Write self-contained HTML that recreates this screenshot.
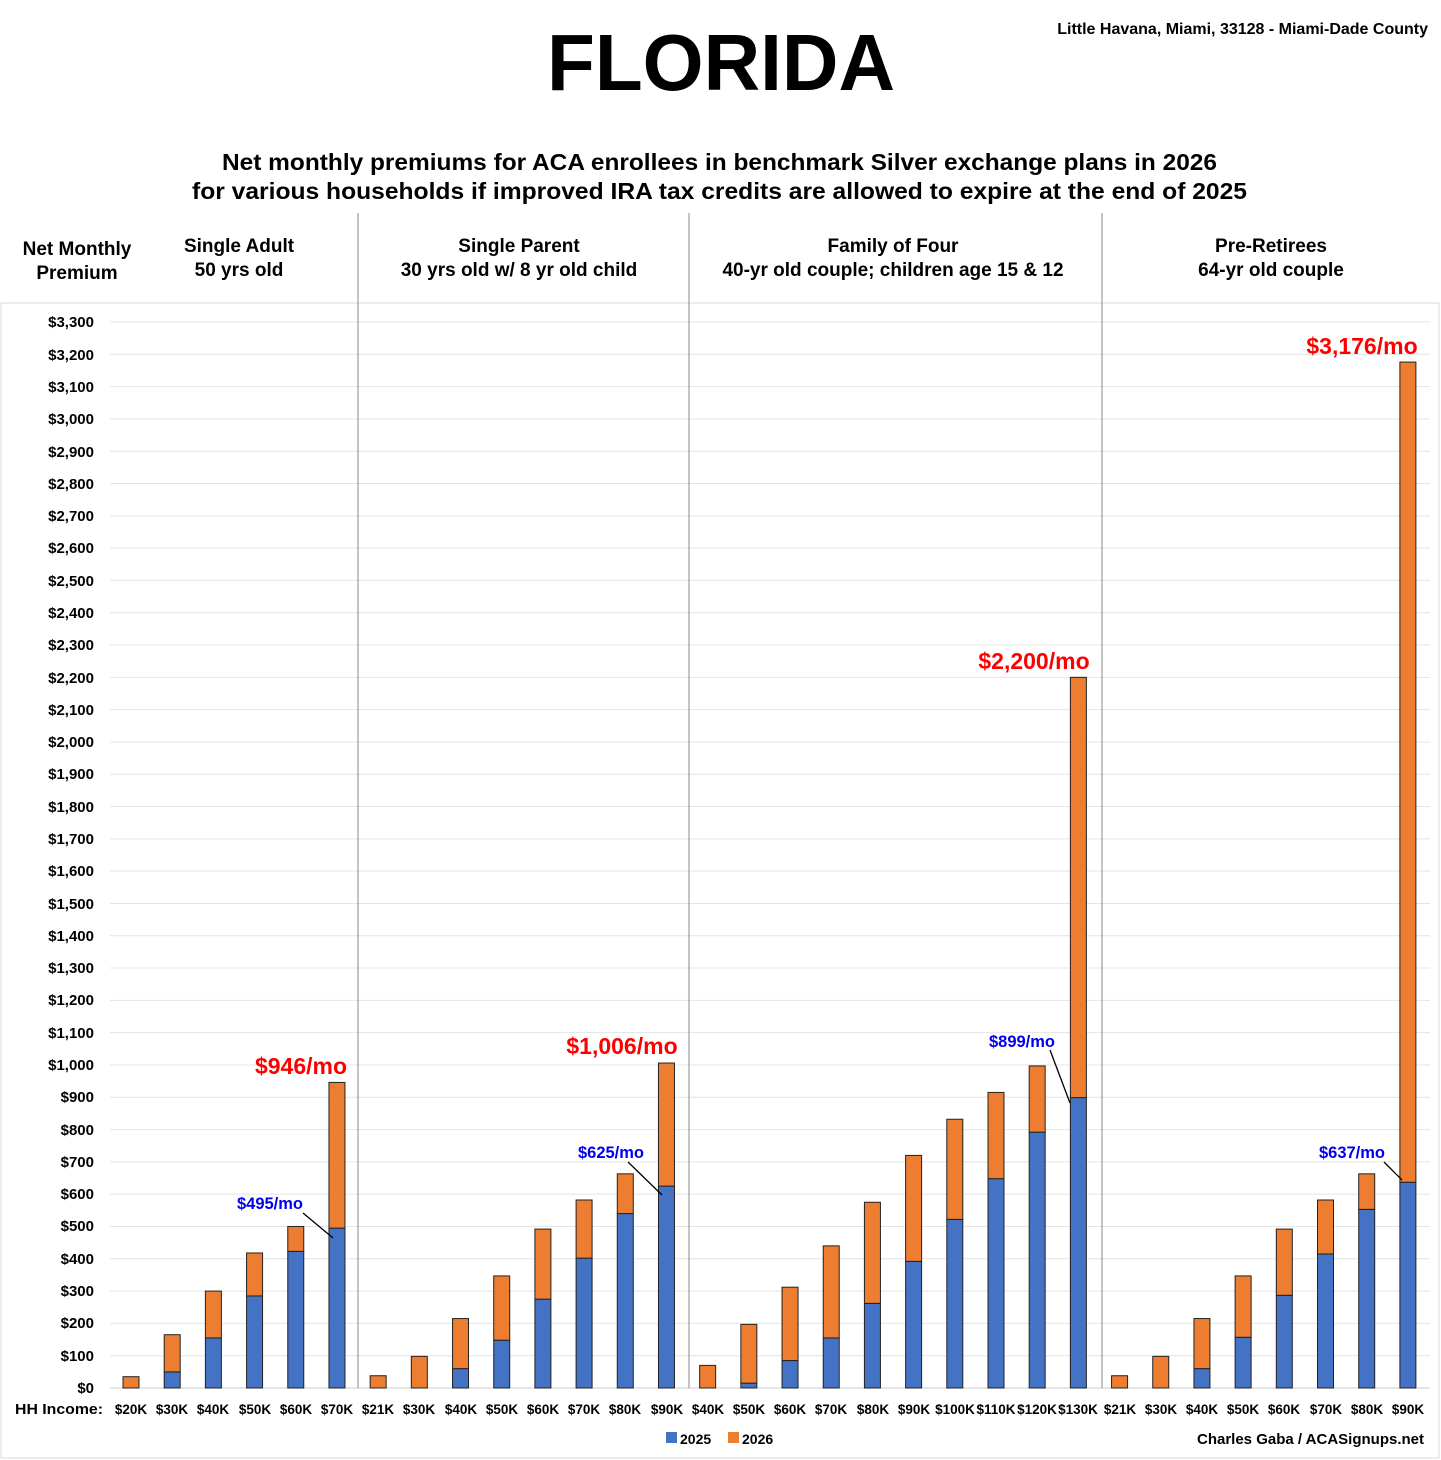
<!DOCTYPE html><html><head><meta charset="utf-8"><style>
body{margin:0;background:#fff;}
svg{display:block;font-family:"Liberation Sans",sans-serif;font-weight:bold;}
</style></head><body>
<svg id="s" width="1441" height="1460" xmlns="http://www.w3.org/2000/svg">
<rect x="0" y="0" width="1441" height="1460" fill="#fff"/>
<rect x="1" y="303" width="1438" height="1155" fill="none" stroke="#d9d9d9"/>
<g id="grid"></g>
<g id="bars"></g>
<line x1="358" y1="213" x2="358" y2="1388" stroke="#888"/>
<line x1="689" y1="213" x2="689" y2="1388" stroke="#888"/>
<line x1="1102" y1="213" x2="1102" y2="1388" stroke="#888"/>
<text x="547" y="90" font-size="80" textLength="348" lengthAdjust="spacingAndGlyphs">FLORIDA</text>
<text x="1428" y="34" font-size="16" text-anchor="end">Little Havana, Miami, 33128 - Miami-Dade County</text>
<text x="222" y="170" font-size="23" textLength="995" lengthAdjust="spacingAndGlyphs">Net monthly premiums for ACA enrollees in benchmark Silver exchange plans in 2026</text>
<text x="192" y="199" font-size="23" textLength="1055" lengthAdjust="spacingAndGlyphs">for various households if improved IRA tax credits are allowed to expire at the end of 2025</text>
<g font-size="19" text-anchor="middle">
<text x="77" y="255">Net Monthly</text><text x="77" y="279">Premium</text>
<text x="239" y="252">Single Adult</text><text x="239" y="276">50 yrs old</text>
<text x="519" y="252">Single Parent</text><text x="519" y="276">30 yrs old w/ 8 yr old child</text>
<text x="893" y="252">Family of Four</text><text x="893" y="276">40-yr old couple; children age 15 &amp; 12</text>
<text x="1271" y="252">Pre-Retirees</text><text x="1271" y="276">64-yr old couple</text>
</g>
<g font-size="15" text-anchor="end">
<text x="94" y="1393">$0</text><text x="94" y="1361">$100</text><text x="94" y="1328">$200</text><text x="94" y="1296">$300</text><text x="94" y="1264">$400</text><text x="94" y="1231">$500</text><text x="94" y="1199">$600</text><text x="94" y="1167">$700</text><text x="94" y="1135">$800</text><text x="94" y="1102">$900</text><text x="94" y="1070">$1,000</text><text x="94" y="1038">$1,100</text><text x="94" y="1005">$1,200</text><text x="94" y="973">$1,300</text><text x="94" y="941">$1,400</text><text x="94" y="909">$1,500</text><text x="94" y="876">$1,600</text><text x="94" y="844">$1,700</text><text x="94" y="812">$1,800</text><text x="94" y="779">$1,900</text><text x="94" y="747">$2,000</text><text x="94" y="715">$2,100</text><text x="94" y="683">$2,200</text><text x="94" y="650">$2,300</text><text x="94" y="618">$2,400</text><text x="94" y="586">$2,500</text><text x="94" y="553">$2,600</text><text x="94" y="521">$2,700</text><text x="94" y="489">$2,800</text><text x="94" y="457">$2,900</text><text x="94" y="424">$3,000</text><text x="94" y="392">$3,100</text><text x="94" y="360">$3,200</text><text x="94" y="327">$3,300</text>
</g>
<text x="15" y="1414" font-size="15" textLength="88" lengthAdjust="spacingAndGlyphs">HH Income:</text>
<g font-size="13.5" text-anchor="middle">
<text x="131" y="1414">$20K</text><text x="172" y="1414">$30K</text><text x="213" y="1414">$40K</text><text x="255" y="1414">$50K</text><text x="296" y="1414">$60K</text><text x="337" y="1414">$70K</text>
<text x="378" y="1414">$21K</text><text x="419" y="1414">$30K</text><text x="461" y="1414">$40K</text><text x="502" y="1414">$50K</text><text x="543" y="1414">$60K</text><text x="584" y="1414">$70K</text><text x="625" y="1414">$80K</text><text x="667" y="1414">$90K</text>
<text x="708" y="1414">$40K</text><text x="749" y="1414">$50K</text><text x="790" y="1414">$60K</text><text x="831" y="1414">$70K</text><text x="873" y="1414">$80K</text><text x="914" y="1414">$90K</text><text x="955" y="1414">$100K</text><text x="996" y="1414">$110K</text><text x="1037" y="1414">$120K</text><text x="1078" y="1414">$130K</text>
<text x="1120" y="1414">$21K</text><text x="1161" y="1414">$30K</text><text x="1202" y="1414">$40K</text><text x="1243" y="1414">$50K</text><text x="1284" y="1414">$60K</text><text x="1326" y="1414">$70K</text><text x="1367" y="1414">$80K</text><text x="1408" y="1414">$90K</text>
</g>
<rect x="666" y="1432" width="11" height="11" fill="#4472c4"/><text x="680" y="1444" font-size="14">2025</text>
<rect x="728" y="1432" width="11" height="11" fill="#ed7d31"/><text x="742" y="1444" font-size="14">2026</text>
<text x="1424" y="1444" font-size="15" text-anchor="end">Charles Gaba / ACASignups.net</text>
<g fill="#ff0000" font-size="23" text-anchor="middle">
<text x="301" y="1074">$946/mo</text><text x="622" y="1054">$1,006/mo</text><text x="1034" y="669">$2,200/mo</text><text x="1362" y="354">$3,176/mo</text>
</g>
<g fill="#0000ee" font-size="16.5" text-anchor="middle">
<text x="270" y="1209">$495/mo</text><text x="611" y="1158">$625/mo</text><text x="1022" y="1047">$899/mo</text><text x="1352" y="1158">$637/mo</text>
</g>
<g stroke="#000" stroke-width="1.3">
<line x1="303" y1="1213" x2="333" y2="1238"/><line x1="628" y1="1162" x2="662" y2="1195"/><line x1="1050" y1="1050" x2="1070" y2="1103"/><line x1="1384" y1="1162" x2="1402" y2="1180"/>
</g>
</svg>
<script>
var s="http://www.w3.org/2000/svg",g=document.getElementById('grid'),b=document.getElementById('bars');
function Y(v){return 1388-v*0.32303;}
for(var v=100;v<=3300;v+=100){var l=document.createElementNS(s,'line');l.setAttribute('x1',110);l.setAttribute('x2',1430);l.setAttribute('y1',Y(v));l.setAttribute('y2',Y(v));l.setAttribute('stroke','#e4e4e4');g.appendChild(l);}
var d=[[0,35],[50,165],[155,300],[285,418],[423,500],[495,946],
[0,38],[0,98],[60,215],[148,347],[275,492],[402,582],[540,663],[625,1006],
[0,70],[15,197],[85,312],[155,440],[262,575],[392,720],[522,832],[648,915],[792,997],[899,2200],
[0,38],[0,98],[60,215],[157,347],[287,492],[415,582],[553,663],[637,3176]];
function R(x,y1,y2,c){var r=document.createElementNS(s,'rect');r.setAttribute('x',x);r.setAttribute('y',y2);r.setAttribute('width',16);r.setAttribute('height',y1-y2);r.setAttribute('fill',c);r.setAttribute('stroke','#222');r.setAttribute('stroke-width','1');b.appendChild(r);}
d.forEach(function(e,i){var x=131+i*41.19-8;if(e[0]>0)R(x,Y(0),Y(e[0]),'#4472c4');R(x,Y(e[0]),Y(e[1]),'#ed7d31');});
var a=document.createElementNS(s,'line');a.setAttribute('x1',110);a.setAttribute('x2',1430);a.setAttribute('y1',1388);a.setAttribute('y2',1388);a.setAttribute('stroke','#ccc');g.appendChild(a);
</script>
</body></html>
